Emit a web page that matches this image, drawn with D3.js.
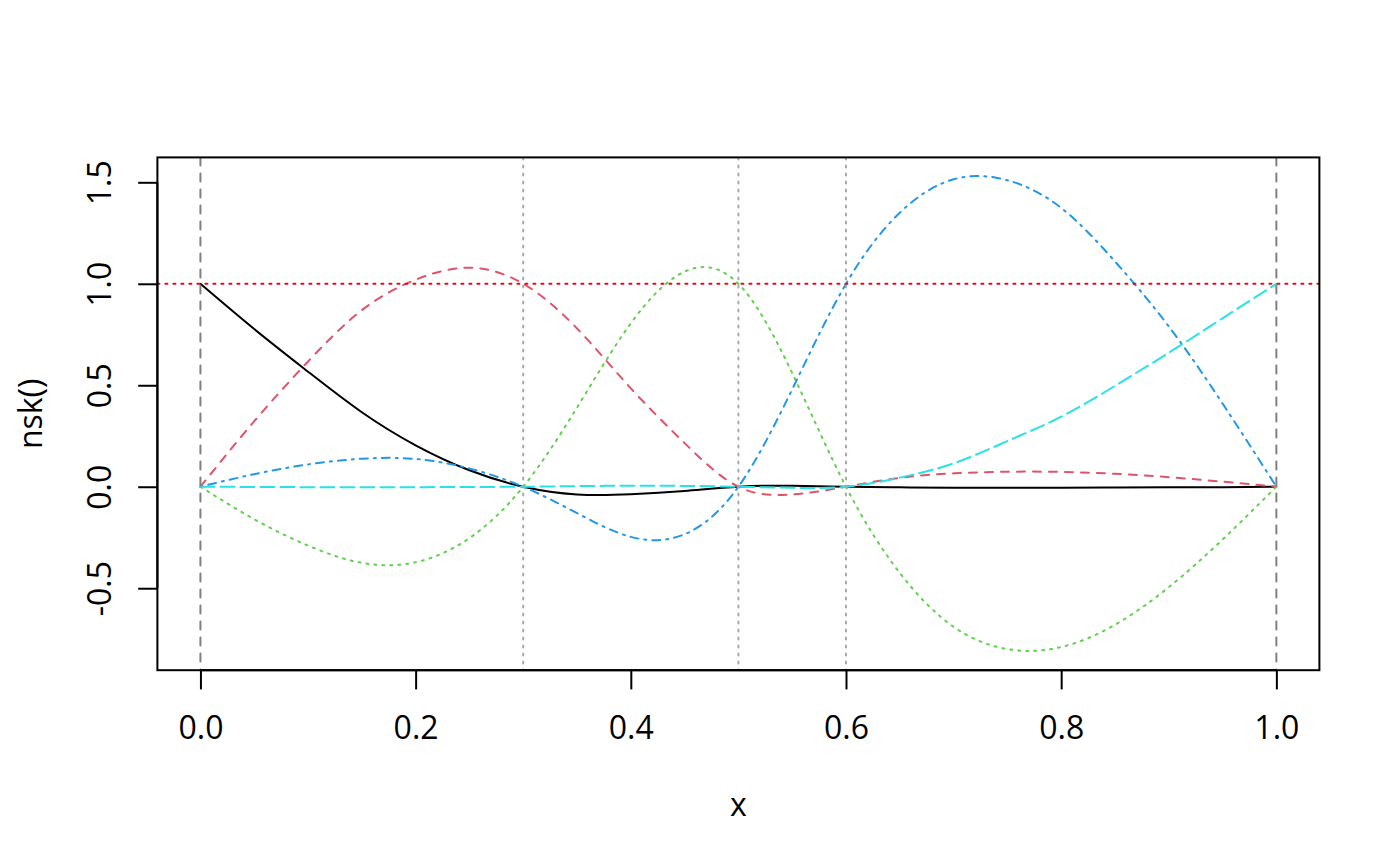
<!DOCTYPE html>
<html>
<head>
<meta charset="utf-8">
<script src="https://cdn.jsdelivr.net/npm/d3@7"></script>
<style>
  html, body { margin: 0; padding: 0; background: #ffffff; }
  svg { display: block; }
  text { font-family: "Open Sans", "Noto Sans", sans-serif; fill: #000; }
</style>
</head>
<body>
<svg id="chart" width="1400" height="866"></svg>
<script>
// ---- data ----
const xValues = [0, 0.05, 0.1, 0.15, 0.2, 0.25, 0.3, 0.35, 0.4, 0.45, 0.5, 0.55, 0.6, 0.65, 0.7, 0.75, 0.8, 0.85, 0.9, 0.95, 1];
const basis1 = [1, 0.777, 0.567, 0.367, 0.204, 0.081, 0, -0.038, -0.037, -0.021, 0, 0.005, 0, -0.003, -0.005, -0.005, -0.005, -0.004, -0.003, -0.002, 0];
const basis2 = [0, 0.323, 0.617, 0.870, 1.020, 1.079, 1.0, 0.780, 0.485, 0.215, 0, -0.038, 0, 0.044, 0.066, 0.074, 0.073, 0.064, 0.047, 0.025, 0];
const basis3 = [0, -0.160, -0.290, -0.375, -0.372, -0.253, 0, 0.390, 0.805, 1.060, 1.0, 0.560, 0, -0.425, -0.690, -0.800, -0.790, -0.680, -0.495, -0.260, 0];
const basis4 = [0, 0.062, 0.110, 0.138, 0.137, 0.090, 0, -0.130, -0.247, -0.234, 0, 0.480, 1.0, 1.350, 1.515, 1.510, 1.374, 1.110, 0.790, 0.410, 0];
const basis5 = [0, -0.001, -0.002, -0.002, -0.002, -0.001, 0, 0.003, 0.005, 0.004, 0, -0.005, 0, 0.045, 0.115, 0.225, 0.345, 0.497, 0.660, 0.830, 1.0];
const seriesColors = ["#000000", "#DF536B", "#61D04F", "#2297E6", "#28E2E5"];
const seriesDash = [null, "8,8", "2,6", "2,6,8,6", "14,6"];
const boundaryKnots = [0, 1];
const interiorKnots = [0.3, 0.5, 0.6];
const hLine = [1];
const xTicks = [0, 0.2, 0.4, 0.6, 0.8, 1.0];
const yTicks = [-0.5, 0, 0.5, 1.0, 1.5];
const xLabel = "x";
const yLabel = "nsk()";

// ---- layout ----
const L = 157.4, R = 1319.4, T = 157.4, B = 670.2;
const svg = d3.select("#chart");
svg.append("rect").attr("width", 1400).attr("height", 866).attr("fill", "#fff");

const x = d3.scaleLinear().domain([-0.04, 1.04]).range([L, R]);
const y = d3.scaleLinear().domain([-0.9039, 1.6227]).range([B, T]);

svg.append("defs").append("clipPath").attr("id", "plotclip")
  .append("rect").attr("x", L).attr("y", T).attr("width", R - L).attr("height", B - T);

const plot = svg.append("g").attr("clip-path", "url(#plotclip)");

const allSeries = [basis1, basis2, basis3, basis4, basis5];
const line = d3.line()
  .x(d => x(d[0]))
  .y(d => y(d[1]))
  .curve(d3.curveNatural);

allSeries.forEach((s, i) => {
  const pts = xValues.map((xv, j) => [xv, s[j]]);
  plot.append("path")
    .attr("d", line(pts))
    .attr("fill", "none")
    .attr("stroke", seriesColors[i])
    .attr("stroke-width", 2)
    .attr("stroke-linecap", "round")
    .attr("stroke-linejoin", "round")
    .attr("stroke-dasharray", seriesDash[i]);
});

// reference lines
plot.selectAll("line.bk").data(boundaryKnots).enter().append("line")
  .attr("x1", d => x(d)).attr("x2", d => x(d)).attr("y1", T).attr("y2", B)
  .attr("stroke", "#7F7F7F").attr("stroke-width", 2)
  .attr("stroke-dasharray", "8,8").attr("stroke-linecap", "round");
plot.selectAll("line.ik").data(interiorKnots).enter().append("line")
  .attr("x1", d => x(d)).attr("x2", d => x(d)).attr("y1", T).attr("y2", B)
  .attr("stroke", "#A9A9A9").attr("stroke-width", 2)
  .attr("stroke-dasharray", "2,6").attr("stroke-linecap", "round");
plot.selectAll("line.h").data(hLine).enter().append("line")
  .attr("x1", L).attr("x2", R).attr("y1", d => y(d)).attr("y2", d => y(d))
  .attr("stroke", "#FF0000").attr("stroke-width", 2)
  .attr("stroke-dasharray", "2,6").attr("stroke-linecap", "round");

// box
svg.append("rect").attr("x", L).attr("y", T).attr("width", R - L).attr("height", B - T)
  .attr("fill", "none").attr("stroke", "#000").attr("stroke-width", 2);

// axes
const xAxis = d3.axisBottom(x).tickValues(xTicks).tickFormat(d3.format(".1f")).tickSize(19.2).tickPadding(0);
const gx = svg.append("g").attr("transform", `translate(0,${B})`).call(xAxis);
gx.select(".domain").attr("d", `M${x(xTicks[0])},0H${x(xTicks[xTicks.length - 1])}`).attr("stroke", "#000").attr("stroke-width", 2);
gx.selectAll(".tick line").attr("stroke", "#000").attr("stroke-width", 2);
gx.selectAll(".tick text").attr("font-size", 32).attr("font-family", "'Open Sans', 'Noto Sans', sans-serif")
  .attr("fill", "#000").attr("dy", null).attr("y", 739 - B);

const yAxis = d3.axisLeft(y).tickValues(yTicks).tickFormat(d3.format(".1f")).tickSize(19.2).tickPadding(0);
const gy = svg.append("g").attr("transform", `translate(${L},0)`).call(yAxis);
gy.select(".domain").attr("d", `M0,${y(yTicks[0])}V${y(yTicks[yTicks.length - 1])}`).attr("stroke", "#000").attr("stroke-width", 2);
gy.selectAll(".tick line").attr("stroke", "#000").attr("stroke-width", 2);
gy.selectAll(".tick text")
  .attr("font-size", 32).attr("font-family", "'Open Sans', 'Noto Sans', sans-serif").attr("fill", "#000")
  .attr("x", null).attr("dy", null)
  .attr("text-anchor", "middle")
  .attr("transform", `translate(${111 - L},0) rotate(-90)`)
  .text(d => d3.format(".1f")(d).replace("−", "-"));

// axis titles
svg.append("text").attr("x", (L + R) / 2).attr("y", 816)
  .attr("text-anchor", "middle").attr("font-size", 32).text(xLabel);
svg.append("text")
  .attr("transform", `translate(42,${(T + B) / 2}) rotate(-90)`)
  .attr("text-anchor", "middle").attr("font-size", 32).text(yLabel);
</script>
</body>
</html>
